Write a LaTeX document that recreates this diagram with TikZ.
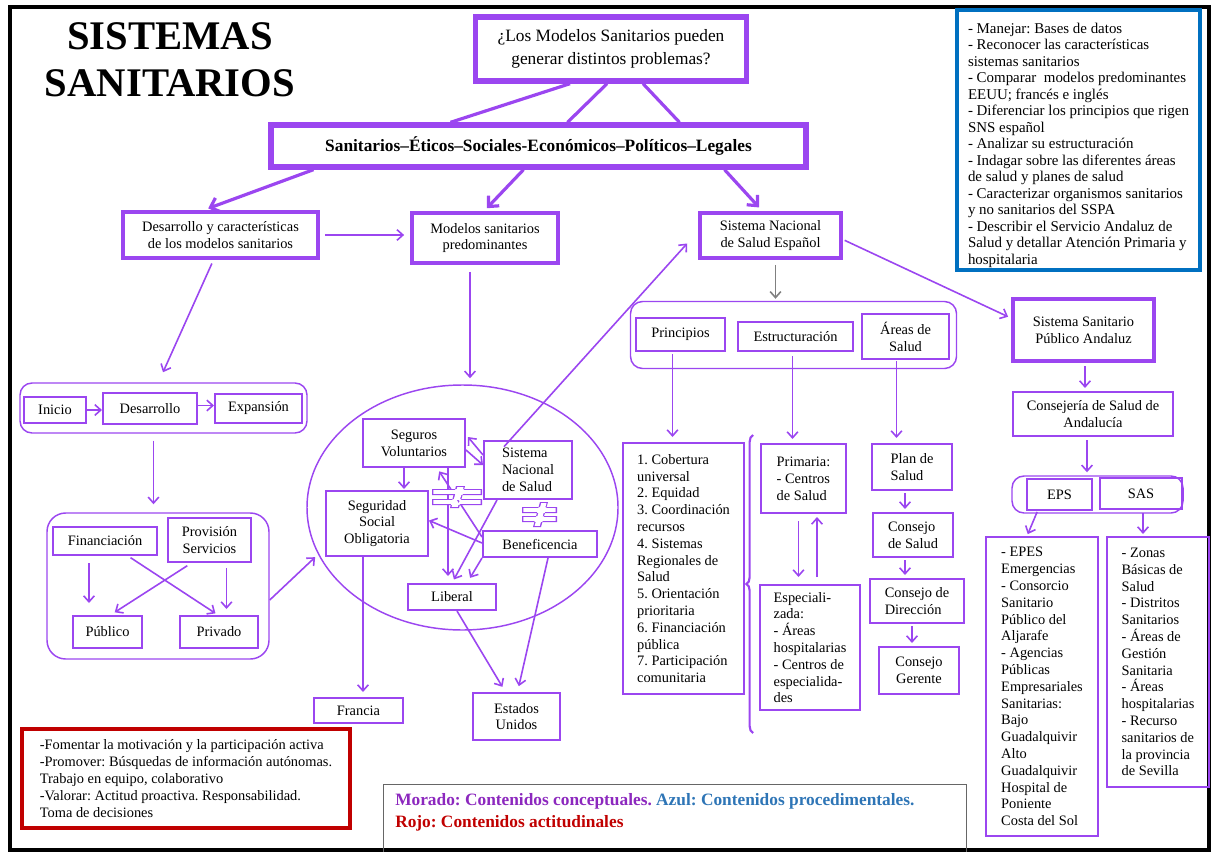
\documentclass[tikz,border=0pt]{standalone}
\usepackage{fontspec}
\setmainfont{Liberation Serif}
\usetikzlibrary{arrows.meta,shapes.geometric,decorations.pathreplacing}

\definecolor{morado}{RGB}{155,70,240}
\definecolor{azul}{RGB}{0,112,192}
\definecolor{rojo}{RGB}{192,0,0}
\definecolor{gris}{RGB}{128,128,128}
\definecolor{moradoley}{RGB}{140,40,190}
\definecolor{azulley}{RGB}{46,117,182}

\newcommand{\texto}{\fontsize{10.8}{12.6}\selectfont}
\newcommand{\pix}[1]{#1*0.75pt}
\frenchspacing

\tikzset{
  sz/.style 2 args={minimum width=#1*0.75pt, minimum height=#2*0.75pt},
  caja/.style={draw=morado, line width=1.5pt, inner sep=0pt, align=center, font=\texto},
  lista/.style={caja, align=left},
  gruesa/.style={line width=4pt},
  media/.style={line width=2.8pt},
  grupo/.style={draw=morado, line width=1.1pt, rounded corners=9pt, inner sep=0pt},
  flecha/.style={draw=morado, line width=1.2pt, -{Straight Barb[length=4.5pt,width=8pt]}},
  flechag/.style={draw=morado, line width=2.4pt, -{Straight Barb[length=6pt,width=11pt]}},
  linea/.style={draw=morado, line width=2.4pt}
}

\begin{document}
\begin{tikzpicture}[x=0.75pt,y=0.75pt]
\useasboundingbox (0,0) rectangle (1216,-852);
% marco
\draw[line width=3.6pt] (10,-7) rectangle (1209,-850);

% titulo y pregunta
\node[font=\fontsize{30.5}{35}\selectfont\bfseries, align=center, inner sep=0pt] (titulo) at (170,-60) {SISTEMAS\\SANITARIOS};
\node[caja, gruesa, sz={271}{64}, font=\fontsize{13}{17}\selectfont] (pregunta) at (611,-49) {¿Los Modelos Sanitarios pueden\\generar distintos problemas?};
\node[caja, gruesa, sz={535}{42}, font=\fontsize{13}{15}\selectfont\bfseries] (ambitos) at (538.5,-146) {Sanitarios–Éticos–Sociales-Económicos–Políticos–Legales};
\draw[linea] ([xshift=\pix{-41}]pregunta.south) -- ([xshift=\pix{-88}]ambitos.north);
\draw[linea] ([xshift=\pix{-4}]pregunta.south) -- ([xshift=\pix{29}]ambitos.north);
\draw[linea] ([xshift=\pix{32}]pregunta.south) -- ([xshift=\pix{141}]ambitos.north);

% contenidos procedimentales
\node[draw=azul, line width=2.3pt, sz={243}{260}, align=left, inner sep=0pt, font=\fontsize{11.2}{12.4}\selectfont] (objetivos) at (1078.5,-140) {\rule{0pt}{15.5pt}- Manejar: Bases de datos\\- Reconocer las características\\sistemas sanitarios\\- Comparar~ modelos predominantes\\EEUU; francés e inglés\\- Diferenciar los principios que rigen\\SNS español\\- Analizar su estructuración\\- Indagar sobre las diferentes áreas\\de salud y planes de salud\\- Caracterizar organismos sanitarios\\y no sanitarios del SSPA\\- Describir el Servicio Andaluz de\\Salud y detallar Atención Primaria y\\hospitalaria};

% primer nivel
\node[caja, media, sz={195}{46}] (desarrollo) at (220.5,-235) {Desarrollo y características\\de los modelos sanitarios};
\node[caja, media, sz={146}{50}] (modelos) at (485,-238) {Modelos sanitarios\\predominantes};
\node[caja, media, sz={141}{45}] (sns) at (770.5,-235.5) {Sistema Nacional\\de Salud Español};
\node[caja, line width=3.3pt, sz={141}{62}] (sspa) at (1083.5,-330) {Sistema Sanitario\\Público Andaluz};
\draw[flechag, shorten >=\pix{5}] ([xshift=\pix{-225}]ambitos.south) -- ([xshift=\pix{-17}]desarrollo.north);
\draw[flechag, shorten >=\pix{4}] ([xshift=\pix{-15}]ambitos.south) -- ([xshift=\pix{-1}]modelos.north);
\draw[flechag, shorten >=\pix{5}] ([xshift=\pix{186}]ambitos.south) -- ([xshift=\pix{-8}]sns.north);
\draw[flecha, shorten <=\pix{5}, shorten >=\pix{6}] (desarrollo.east) -- (desarrollo.east -| modelos.west);

% etapas y ejes
\node[grupo, sz={287}{50}] (etapas) at (163.5,-408) {};
\node[caja, sz={62}{26}] (inicio) at (55,-410) {Inicio};
\node[caja, sz={94}{31}] (desarrollob) at (150,-408.5) {Desarrollo};
\node[caja, sz={87}{29}] (expansion) at (258.5,-408.5) {Expansión};
\draw[flecha] (inicio.east) -- (inicio.east -| desarrollob.west);
\draw[flecha] ([yshift=\pix{3}]desarrollob.east) -- ([yshift=\pix{3}]desarrollob.east -| expansion.west);
\draw[flecha, shorten <=\pix{4}, shorten >=\pix{11}] ([xshift=\pix{-7}]desarrollo.south) -- ([xshift=\pix{-5}]etapas.north);

\node[grupo, rounded corners=14pt, sz={222}{146}] (ejes) at (158,-586) {};
\node[caja, sz={104}{28}] (financiacion) at (105,-541) {Financiación};
\node[caja, sz={83}{44}] (provision) at (209.5,-540) {Provisión\\Servicios};
\node[caja, sz={69}{32}] (publico) at (107.5,-632) {Público};
\node[caja, sz={78}{32}] (privado) at (219,-632) {Privado};
\draw[flecha, shorten <=\pix{7}, shorten >=\pix{8}] ([xshift=\pix{-10}]etapas.south) -- ([xshift=\pix{-10}]etapas.south |- ejes.north);
\draw[flecha, shorten <=\pix{7}, shorten >=\pix{12}] ([xshift=\pix{-16}]financiacion.south) -- ([xshift=\pix{-16}]financiacion.south |- publico.north);
\draw[flecha, shorten <=\pix{5}, shorten >=\pix{6}] ([xshift=\pix{17}]provision.south) -- ([xshift=\pix{17}]provision.south |- privado.north);
\draw[flecha, shorten <=\pix{3}, shorten >=\pix{3}] ([xshift=\pix{23}]financiacion.south) -- ([xshift=\pix{-1}]privado.north);
\draw[flecha, shorten <=\pix{5}, shorten >=\pix{5}] ([xshift=\pix{-18}]provision.south) -- ([xshift=\pix{3}]publico.north);

% modelos predominantes
\node[ellipse, draw=morado, line width=1.1pt, sz={311}{245}, inner sep=0pt] (modelosel) at (462.5,-507.5) {};
\node[caja, sz={102}{48}] (seguros) at (414,-443) {Seguros\\Voluntarios};
\node[caja, align=left, sz={88}{58}] (snsi) at (528,-470) {Sistema\\Nacional\\de Salud};
\node[caja, sz={102}{65}] (seguridad) at (377,-523.5) {Seguridad\\Social\\Obligatoria};
\node[caja, sz={114}{26}] (beneficencia) at (540,-544) {Beneficencia};
\node[caja, sz={88}{26}] (liberal) at (452,-597) {Liberal};
\node[caja, sz={89}{25}] (francia) at (358.5,-710.5) {Francia};
\node[caja, sz={87}{47}] (eeuu) at (516.5,-716.5) {Estados\\Unidos};
\draw[flecha, shorten >=\pix{4}] ([yshift=\pix{-14}]ejes.east) -- (modelosel.198);
\draw[flecha, shorten <=\pix{7}, shorten >=\pix{6}] ([xshift=\pix{-15}]modelos.south) -- ([xshift=\pix{-15}]modelos.south |- modelosel.north);
\draw[flecha, shorten >=\pix{1}] ([xshift=\pix{-10}]seguros.south) -- ([xshift=\pix{-10}]seguros.south |- seguridad.north);
\draw[flecha] ([yshift=\pix{15}]snsi.west) -- ([xshift=\pix{2},yshift=\pix{6}]seguros.east);
\draw[flecha] ([yshift=\pix{-7}]seguros.east) -- ([yshift=\pix{5}]snsi.west);
\draw[flecha, shorten >=\pix{4}] ([yshift=\pix{7}]beneficencia.west) -- ([xshift=\pix{23}]seguros.south);
\draw[flecha] ([yshift=\pix{1}]beneficencia.west) -- ([yshift=\pix{3}]seguridad.east);
\draw[flecha, shorten >=\pix{7}] ([xshift=\pix{34}]seguros.south) -- ([xshift=\pix{34}]seguros.south |- liberal.north);
\draw[flecha, shorten >=\pix{4}] ([xshift=\pix{-31}]snsi.south) -- (liberal.north);
\draw[flecha, shorten >=\pix{6}] (beneficencia.south west) -- ([xshift=\pix{15}]liberal.north);
\draw[flecha, shorten >=\pix{5}] ([xshift=\pix{-14}]seguridad.south) -- ([xshift=\pix{-14}]seguridad.south |- francia.north);
\draw[flecha, shorten >=\pix{6}] ([xshift=\pix{5}]liberal.south) -- ([xshift=\pix{-11}]eeuu.north);
\draw[flecha, shorten >=\pix{6}] ([xshift=\pix{8}]beneficencia.south) -- ([xshift=\pix{1}]eeuu.north);
\draw[flecha, shorten <=\pix{-9}] ([xshift=\pix{-18}]snsi.north) -- ([xshift=\pix{-11},yshift=\pix{-8}]sns.west);
% distinto
\fill[morado] (432,-489) rectangle (482,-495) (432,-499) rectangle (482,-505) (456,-486) -- (465,-486) -- (459,-508) -- (450,-508) -- cycle;
\fill[white] (433.3,-490.2) rectangle (480.7,-493.8) (433.3,-500.2) rectangle (480.7,-503.8) (457.3,-487.2) -- (463.5,-487.2) -- (457.9,-506.8) -- (451.6,-506.8) -- cycle;
\fill[morado] (522,-507) rectangle (557,-513) (522,-516) rectangle (557,-522) (540,-502) -- (548,-502) -- (541,-527) -- (533,-527) -- cycle;
\fill[white] (523.3,-508.2) rectangle (555.7,-511.8) (523.3,-517.2) rectangle (555.7,-520.8) (541.2,-503.2) -- (546.5,-503.2) -- (539.8,-525.8) -- (534.6,-525.8) -- cycle;

% sistema nacional de salud
\node[grupo, sz={326}{67}] (snspartes) at (793.5,-335) {};
\node[caja, sz={89}{33}] (principios) at (680.5,-334.5) {Principios};
\node[caja, sz={115}{29}] (estructura) at (795.5,-336.5) {Estructuración};
\node[caja, sz={87}{45}] (areas) at (905.5,-336.5) {Áreas de\\Salud};
\node[lista, sz={121}{251}] (listaprin) at (683.5,-568.5) {1. Cobertura\\universal\\2. Equidad\\3. Coordinación\\recursos\\4. Sistemas\\Regionales de\\Salud\\5. Orientación\\prioritaria\\6. Financiación\\pública\\7. Participación\\comunitaria};
\node[lista, sz={85}{69}] (primaria) at (803.5,-478.5) {Primaria:\\- Centros\\de Salud};
\node[lista, sz={100}{125}] (especializada) at (810,-647.5) {Especiali-\\zada:\\- Áreas\\hospitalarias\\- Centros de\\especialida-\\des};
\node[lista, sz={80}{46}] (plan) at (912,-467) {Plan de\\Salud};
\node[lista, sz={80}{44}] (consalud) at (913,-535) {Consejo\\de Salud};
\node[lista, sz={94}{44}] (condir) at (917,-601) {Consejo de\\Dirección};
\node[caja, sz={80}{47}] (conger) at (919,-670.5) {Consejo\\Gerente};
\draw[flecha, draw=gris, shorten <=\pix{5}, shorten >=\pix{2}] ([xshift=\pix{5}]sns.south) -- ([xshift=\pix{5}]sns.south |- snspartes.north);
\draw[flecha, shorten <=\pix{2}, shorten >=\pix{3}] ([yshift=\pix{-4}]sns.east) -- ([yshift=\pix{12}]sspa.west);
\draw[flecha, shorten <=\pix{2}, shorten >=\pix{5}] ([xshift=\pix{-8}]principios.south) -- ([xshift=\pix{-8}]principios.south |- listaprin.north);
\draw[flecha, shorten <=\pix{4}, shorten >=\pix{4}] ([xshift=\pix{-3}]estructura.south) -- ([xshift=\pix{-3}]estructura.south |- primaria.north);
\draw[flecha, shorten <=\pix{1}, shorten >=\pix{5}] ([xshift=\pix{-9}]areas.south) -- ([xshift=\pix{-9}]areas.south |- plan.north);
\draw[flecha, shorten <=\pix{7}, shorten >=\pix{7}] ([xshift=\pix{-5}]primaria.south) -- ([xshift=\pix{-5}]primaria.south |- especializada.north);
\draw[flecha, shorten <=\pix{7}, shorten >=\pix{3}] ([xshift=\pix{7}]especializada.north) -- ([xshift=\pix{7}]especializada.north |- primaria.south);
\draw[flecha, shorten <=\pix{2}, shorten >=\pix{3}] ([xshift=\pix{-7}]plan.south) -- ([xshift=\pix{-7}]plan.south |- consalud.north);
\draw[flecha, shorten <=\pix{2}, shorten >=\pix{3}] ([xshift=\pix{-8}]consalud.south) -- ([xshift=\pix{-8}]consalud.south |- condir.north);
\draw[flecha, shorten <=\pix{2}, shorten >=\pix{3}] ([xshift=\pix{-5}]condir.south) -- ([xshift=\pix{-5}]condir.south |- conger.north);
\draw[morado, line width=1.6pt, decorate, decoration={brace, amplitude=5pt}] (753,-733) -- (753,-435);

% sistema sanitario publico andaluz
\node[caja, sz={160}{44}] (consejeria) at (1093,-414) {Consejería de Salud de\\Andalucía};
\node[grupo, sz={171}{37}] (organismos) at (1097.5,-494.5) {};
\node[caja, sz={65}{31}] (eps) at (1059.5,-494.5) {EPS};
\node[caja, sz={82}{31}] (sas) at (1141,-493.5) {SAS};
\node[lista, sz={112}{299}] (listaeps) at (1042,-686.5) {- EPES\\Emergencias\\- Consorcio\\Sanitario\\Público del\\Aljarafe\\- Agencias\\Públicas\\Empresariales\\Sanitarias:\\Bajo\\Guadalquivir\\Alto\\Guadalquivir\\Hospital de\\Poniente\\Costa del Sol};
\node[lista, sz={102}{250}] (listasas) at (1158,-662) {- Zonas\\Básicas de\\Salud\\- Distritos\\Sanitarios\\- Áreas de\\Gestión\\Sanitaria\\- Áreas\\hospitalarias\\- Recurso\\sanitarios de\\la provincia\\de Sevilla};
\draw[flecha, shorten <=\pix{3}, shorten >=\pix{3}] ([xshift=\pix{1.5}]sspa.south) -- ([xshift=\pix{1.5}]sspa.south |- consejeria.north);
\draw[flecha, shorten <=\pix{3}, shorten >=\pix{3}] ([xshift=\pix{-6}]consejeria.south) -- ([xshift=\pix{-6}]consejeria.south |- organismos.north);
\draw[flecha, shorten <=\pix{1}, shorten >=\pix{2}] ([xshift=\pix{-22}]eps.south) -- ([xshift=\pix{-15}]listaeps.north);
\draw[flecha, shorten <=\pix{3}, shorten >=\pix{2}] ([xshift=\pix{2}]sas.south) -- ([xshift=\pix{2}]sas.south |- listasas.north);

% contenidos actitudinales y leyenda
\node[draw=rojo, line width=3pt, sz={328}{99}, align=left, inner sep=0pt, font=\texto] (actitudes) at (186,-778.5) {-Fomentar la motivación y la participación activa\\-Promover: Búsquedas de información autónomas.\\Trabajo en equipo, colaborativo\\-Valorar: Actitud proactiva. Responsabilidad.\\Toma de decisiones};
\node[draw=gris!80!black, line width=0.8pt, sz={583}{80}, anchor=north west, inner sep=0pt] (leyenda) at (383,-784) {};
\node[anchor=north west, align=left, inner sep=0pt, font=\fontsize{13}{17}\selectfont\bfseries] (leyendatxt) at ([xshift=\pix{12},yshift=\pix{-9}]leyenda.north west) {\textcolor{moradoley}{Morado: Contenidos conceptuales.} \textcolor{azulley}{Azul: Contenidos procedimentales.}\\\textcolor{rojo}{Rojo: Contenidos actitudinales}};
\end{tikzpicture}
\end{document}
